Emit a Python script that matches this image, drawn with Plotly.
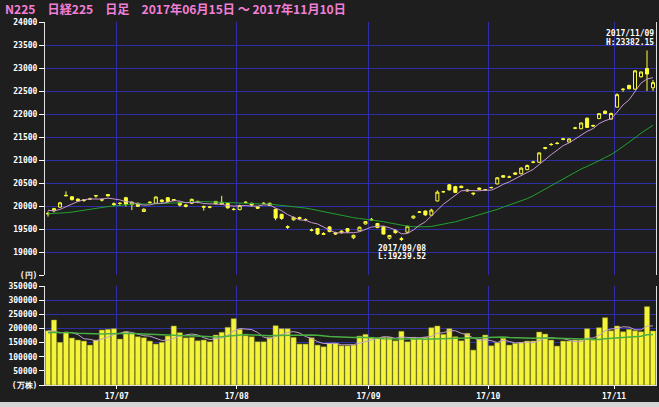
import plotly.graph_objects as go
import pandas as pd

# ---- data ----
dates = ["06/15","06/16","06/19","06/20","06/21","06/22","06/23","06/26","06/27","06/28","06/29","06/30",
         "07/03","07/04","07/05","07/06","07/07","07/10","07/11","07/12","07/13","07/14","07/18","07/19",
         "07/20","07/21","07/24","07/25","07/26","07/27","07/28","07/31",
         "08/01","08/02","08/03","08/04","08/07","08/08","08/09","08/10","08/14","08/15","08/16","08/17",
         "08/18","08/21","08/22","08/23","08/24","08/25","08/28","08/29","08/30","08/31",
         "09/01","09/04","09/05","09/06","09/07","09/08","09/11","09/12","09/13","09/14","09/15","09/19",
         "09/20","09/21","09/22","09/25","09/26","09/27","09/28","09/29",
         "10/02","10/03","10/04","10/05","10/06","10/10","10/11","10/12","10/13","10/16","10/17","10/18",
         "10/19","10/20","10/23","10/24","10/25","10/26","10/27","10/30","10/31",
         "11/01","11/02","11/06","11/07","11/08","11/09","11/10"]

opens = [19840,19895,19975,20220,20200,20150,20120,20150,20220,20140,20250,20050,
         20060,20180,20030,20060,19880,20070,20060,20130,20180,20140,20080,19990,
         20060,20090,19990,19980,20100,20040,20060,19930,
         19920,20080,20060,19980,20060,20060,19930,19820,19550,19700,19750,19700,
         19480,19510,19400,19546,19420,19420,19510,19310,19460,19610,
         19710,19620,19550,19300,19470,19290,19430,19740,19870,19890,19800,20110,
         20310,20460,20420,20430,20350,20280,20390,20350,
         20400,20480,20660,20630,20720,20700,20790,20950,20950,21270,21340,21360,
         21460,21390,21690,21680,21910,21750,21900,22060,21890,
         22150,22530,22620,22540,22810,22990,22570]

highs = [19880,19960,20090,20318,20210,20165,20150,20180,20240,20170,20260,20080,
         20080,20200,20100,20070,19950,20100,20210,20140,20190,20150,20090,20040,
         20160,20110,20010,20000,20110,20220,20070,19960,
         20030,20100,20070,19990,20080,20070,19940,19830,19580,19770,19770,19730,
         19510,19520,19430,19560,19440,19470,19520,19375,19550,19670,
         19740,19630,19560,19370,19490,19330,19570,19790,19890,19900,19940,20340,
         20330,20480,20440,20440,20370,20290,20400,20370,
         20420,20620,20670,20660,20730,20840,20900,20980,21160,21280,21370,21390,
         21480,21470,21720,21810,21920,21770,22010,22080,22030,
         22450,22560,22640,22950,22920,23382.15,22740]

lows = [19770,19860,19960,20215,20120,20100,20090,20130,20180,20100,20210,20000,
        20000,19990,19910,19980,19870,20050,20050,20070,20090,20100,19990,19970,
        20040,20060,19900,19950,20040,20020,19940,19900,
        19910,20050,19990,19940,20040,20000,19690,19700,19500,19680,19700,19670,
        19450,19370,19380,19430,19370,19400,19410,19280,19450,19600,
        19680,19520,19380,19270,19400,19239.52,19420,19720,19850,19790,19780,20100,
        20290,20340,20290,20390,20320,20230,20350,20330,
        20380,20470,20620,20610,20680,20690,20780,20930,20940,21230,21310,21340,
        21430,21380,21670,21670,21700,21720,21890,22000,21880,
        22140,22480,22540,22530,22790,22500,22500]

closes = [19832,19943,20068,20230,20139,20111,20133,20153,20225,20130,20220,20033,
          20056,20032,20082,19994,19929,20081,20195,20098,20100,20119,20020,20021,
          20145,20100,19976,19975,20050,20080,19960,19925,
          20010,20080,20020,19952,20056,20010,19738,19730,19537,19753,19729,19703,
          19470,19393,19384,19444,19390,19453,19450,19363,19540,19660,
          19700,19530,19390,19360,19420,19275,19560,19780,19866,19807,19910,20300,
          20310,20350,20296,20400,20330,20267,20363,20356,
          20401,20614,20627,20629,20691,20824,20881,20955,21155,21256,21336,21363,
          21449,21458,21697,21805,21708,21740,22008,22012,22012,
          22420,22539,22548,22938,22914,22869,22681]

volumes = [191800,229800,150700,186200,166000,158900,155300,141100,158900,194300,196800,199000,
           162400,188300,182600,170600,167000,155300,144700,150700,173000,208500,184800,167000,
           168400,156400,158900,152800,176600,186200,203900,234400,
           196800,174100,170600,152800,152800,168400,209600,199000,199000,168400,144700,144700,
           167000,141100,135100,147200,147200,138700,138700,141100,173000,179000,
           168400,164900,168400,168400,156400,189700,152800,168400,167000,168400,202500,208500,
           179000,199000,170600,156400,182600,123400,162400,176600,
           138700,149300,164900,141100,147200,149300,155300,155300,187200,180100,158900,137600,
           155300,155300,158900,158900,199000,158900,202500,237900,191800,
           208500,188300,196800,191800,188300,277000,190800]

# lead-in values (before 06/15) used only to start the moving averages
pre_closes = [19884,19870,19920,19815,19554,19591,19678,19613,19743,19813,19687,19683,
              19678,19651,19860,20177,20171,19980,19985,19909,20013,19909,19899,19884]
pre_volumes = [172000,178000,181000,190000,205000,188000,170000,176000,183000,179000,168000,174000,
               181000,196000,192000,199000,188000,183000,180000,176000,232000,184000,172000,176000]

title_text = "N225　日経225　日足　2017年06月15日 ～ 2017年11月10日"
price_ticks = [18500,19000,19500,20000,20500,21000,21500,22000,22500,23000,23500,24000]
price_ticktext = ["(円)","19000","19500","20000","20500","21000","21500","22000","22500","23000","23500","24000"]
vol_ticks = [0,50000,100000,150000,200000,250000,300000,350000]
vol_ticktext = ["(万株)","50000","100000","150000","200000","250000","300000","350000"]

# ---- derived ----
n = len(dates)
x = list(range(n))
c_all = pd.Series(pre_closes + closes, dtype=float)
v_all = pd.Series(pre_volumes + volumes, dtype=float)
k = len(pre_closes)
ma5 = c_all.rolling(5).mean().iloc[k:].tolist()
ma25 = c_all.rolling(25).mean().iloc[k:].tolist()
vma5 = v_all.rolling(5).mean().iloc[k:].tolist()
vma25 = v_all.rolling(25).mean().iloc[k:].tolist()

month_idx = [i for i in range(1, n) if dates[i][:2] != dates[i - 1][:2]]
month_vals = [i - 0.5 for i in month_idx]
month_text = ["17/" + dates[i][:2] for i in month_idx]

hi_i = max(range(n), key=lambda i: highs[i])
lo_i = min(range(n), key=lambda i: lows[i])

BG = "#1e1e1e"
GRID = "#2e2ea6"
YEL = "#ffff3c"
FONT = dict(family="DejaVu Sans Mono", size=8, color="#ffffff", weight="bold")

fig = go.Figure()
fig.add_trace(go.Candlestick(
    x=x, open=opens, high=highs, low=lows, close=closes,
    increasing=dict(line=dict(color=YEL, width=1), fillcolor=BG),
    decreasing=dict(line=dict(color=YEL, width=1), fillcolor=YEL),
    whiskerwidth=0, xaxis="x", yaxis="y", showlegend=False, text=dates))
fig.add_trace(go.Scatter(x=x, y=ma25, mode="lines", line=dict(color="#22a030", width=1),
                         xaxis="x", yaxis="y", showlegend=False, hoverinfo="skip"))
fig.add_trace(go.Scatter(x=x, y=ma5, mode="lines", line=dict(color="#c898d0", width=1),
                         xaxis="x", yaxis="y", showlegend=False, hoverinfo="skip"))
fig.add_trace(go.Bar(x=x, y=volumes, marker=dict(color="#f4f43a", line=dict(color="#9a9a18", width=0.5)),
                     xaxis="x2", yaxis="y2", showlegend=False))
fig.add_trace(go.Scatter(x=x, y=vma5, mode="lines", line=dict(color="#c0a0c8", width=1),
                         xaxis="x2", yaxis="y2", showlegend=False, hoverinfo="skip"))
fig.add_trace(go.Scatter(x=x, y=vma25, mode="lines", line=dict(color="#48b040", width=1.5),
                         xaxis="x2", yaxis="y2", showlegend=False, hoverinfo="skip"))

axis_common = dict(range=[-0.5, n - 0.5], tickvals=month_vals, showgrid=True, gridcolor=GRID,
                   gridwidth=1, zeroline=False, fixedrange=True)

fig.update_layout(
    width=659, height=407,
    margin=dict(l=45, r=3, t=22, b=22),
    paper_bgcolor=BG, plot_bgcolor=BG,
    bargap=0.14, boxgap=0.28,
    title=dict(text=title_text, xref="container", x=5 / 659, xanchor="left",
               yref="container", y=1 - 10 / 407, yanchor="middle",
               font=dict(family="Noto Sans CJK JP", size=12.1, color="#f27fd6", weight="bold")),
    xaxis=dict(**axis_common, domain=[0, 1], anchor="y", showticklabels=False, ticks="",
               rangeslider=dict(visible=False), showline=False),
    xaxis2=dict(**axis_common, domain=[0, 1], anchor="y2", ticktext=month_text,
                ticks="outside", ticklen=3, tickcolor="#ffffff",
                showline=True, linecolor="#e0e0e0", linewidth=1, tickfont=FONT),
    yaxis=dict(domain=[110 / 363, 1], range=[18500, 24000], tickvals=price_ticks, ticktext=price_ticktext,
               showgrid=True, gridcolor=GRID, zeroline=False, ticks="outside", ticklen=5,
               tickcolor="#ffffff", showline=True, linecolor="#e0e0e0", mirror=True,
               tickfont=FONT, fixedrange=True),
    yaxis2=dict(domain=[0, 99 / 363], range=[0, 350000], tickvals=vol_ticks, ticktext=vol_ticktext,
                showgrid=True, gridcolor=GRID, zeroline=False, ticks="outside", ticklen=5,
                tickcolor="#ffffff", showline=True, linecolor="#e0e0e0", mirror=True,
                tickfont=FONT, fixedrange=True),
    shapes=[dict(type="rect", xref="paper", yref="paper", x0=-0.1, x1=1.02,
                 y0=-23 / 363, y1=-17 / 363, fillcolor="#d4d4d4", line=dict(width=0), layer="above")],
    annotations=[
        dict(x=n - 0.5, y=highs[hi_i], xref="x", yref="y", xanchor="right", yanchor="bottom",
             yshift=10, text="2017/" + dates[hi_i], showarrow=False, font=FONT),
        dict(x=n - 0.5, y=highs[hi_i], xref="x", yref="y", xanchor="right", yanchor="bottom",
             yshift=1.5, text="H:%.2f" % highs[hi_i], showarrow=False, font=FONT),
        dict(x=lo_i, y=lows[lo_i], xref="x", yref="y", xanchor="left", yanchor="top",
             xshift=-25, yshift=-1, text="2017/" + dates[lo_i], showarrow=False, font=FONT),
        dict(x=lo_i, y=lows[lo_i], xref="x", yref="y", xanchor="left", yanchor="top",
             xshift=-25, yshift=-9.5, text="L:%.2f" % lows[lo_i], showarrow=False, font=FONT),
    ],
)

fig.write_html("out.html", config={"displayModeBar": False},
               post_script="document.body.style.margin='0';document.body.style.background='#1e1e1e';")
